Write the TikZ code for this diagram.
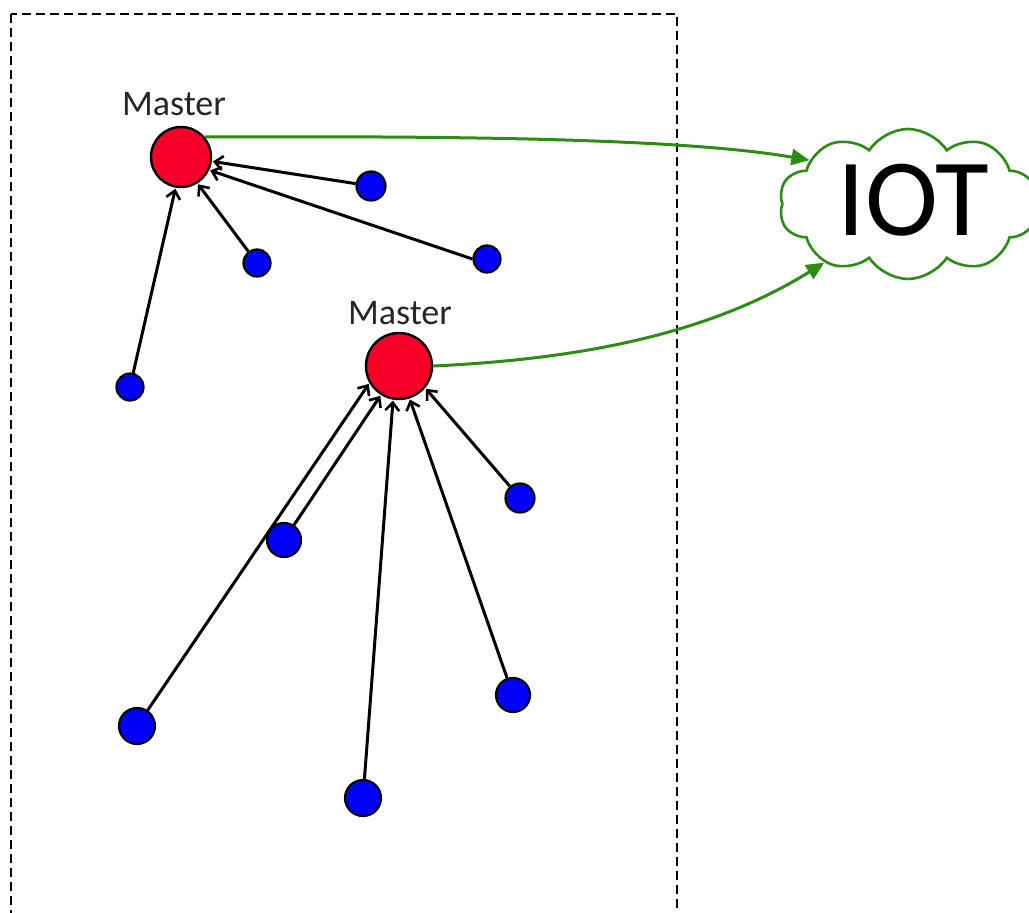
\documentclass[tikz,border=0pt]{standalone}
\usepackage{fontspec}
\setmainfont{Carlito}
\usetikzlibrary{arrows.meta,shapes.symbols}
\definecolor{mred}{RGB}{245,0,40}
\definecolor{sblue}{RGB}{0,0,250}
\definecolor{igreen}{RGB}{45,140,20}
\tikzset{
  master/.style={circle,draw=black,line width=2.4pt,fill=mred,inner sep=0pt,minimum size=#1},
  slave/.style={circle,draw=black,line width=2.2pt,fill=sblue,inner sep=0pt,minimum size=#1},
  link/.style={line width=3pt,-{Straight Barb[length=8pt,width=14pt,line width=2.6pt]},shorten >=1pt},
  glink/.style={line width=3pt,igreen,-{Triangle[length=18pt,width=16pt]}},
  lbl/.style={font=\fontsize{36}{36}\selectfont,text=black!85,inner sep=0pt}
}
\begin{document}
\begin{tikzpicture}[x=1pt,y=-1pt]
\useasboundingbox (0,0) rectangle (1029,913);
\begin{scope}
\clip (0,0) rectangle (1029,913);
\draw[line width=2.6pt,dash pattern=on 9pt off 5pt] (11,14) rectangle (677,940);
\node[cloud,cloud puffs=10,cloud puff arc=115,aspect=1.7,draw=igreen,line width=2.6pt,fill=white,
      minimum width=258pt,minimum height=150pt,inner sep=0pt] (cloud) at (908,204) {};
\end{scope}
\node[font=\fontsize{110}{110}\selectfont,inner sep=0pt] (iot) at (913,200) {IOT};

\node[master=60pt] (m1) at (181,157) {};
\node[master=66pt] (m2) at (399,366) {};
\node[lbl] (l1) at (174,104) {Master};
\node[lbl] (l2) at (400,313) {Master};

\node[slave=29pt] (a1) at (371,186) {};
\node[slave=27pt] (a2) at (257,263) {};
\node[slave=27pt] (a3) at (487,259) {};
\node[slave=27pt] (a4) at (130,387) {};

\node[slave=29pt] (b1) at (520,498) {};
\node[slave=34pt] (b2) at (284,540) {};
\node[slave=36pt] (b3) at (137,726) {};
\node[slave=34pt] (b4) at (513,695) {};
\node[slave=36pt] (b5) at (363,798) {};

\draw[link] (a1) -- (m1.-8);
\draw[link] (a3.west) -- (m1.-25);
\draw[link] (a2) -- (m1.-58);
\draw[link] (a4) -- (m1.-100);

\draw[link] (b3) -- (m2.210);
\draw[link] (b2) -- (m2.238);
\draw[link] (b5) -- (m2.-100);
\draw[link] (b4) -- (m2.-72);
\draw[link] (b1) -- (m2.-40);

\draw[glink] (m1.40) .. controls (450,136) and (680,138) .. (cloud.156);
\draw[glink] (m2.east) .. controls (560,360) and (700,340) .. (cloud.215);
\end{tikzpicture}
\end{document}
